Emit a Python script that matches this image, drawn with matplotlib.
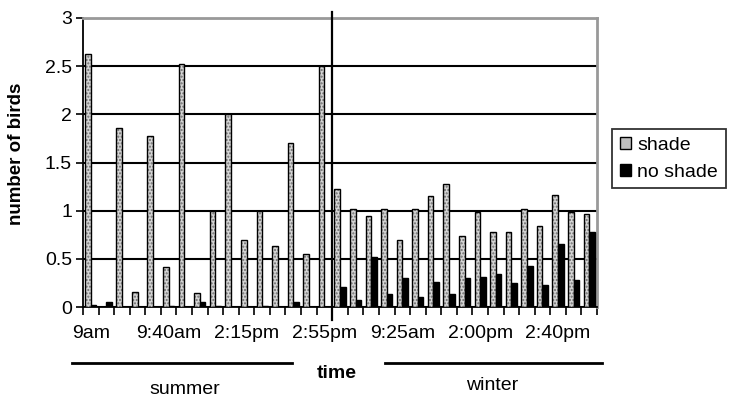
import matplotlib
matplotlib.use("Agg")
import matplotlib.pyplot as plt
import matplotlib.transforms as mtransforms
from matplotlib.patches import Patch
import numpy as np

plt.rcParams['font.family'] = ['Liberation Sans', 'DejaVu Sans']

# ---- data ----
shade = [2.63, 0.00, 1.86, 0.16, 1.78, 0.42, 2.52, 0.15, 1.00, 2.00, 0.70,
         1.00, 0.63, 1.70, 0.55, 2.50,
         1.23, 1.02, 0.94, 1.02, 0.70, 1.02, 1.15, 1.28, 0.74, 0.99, 0.78,
         0.78, 1.02, 0.84, 1.16, 0.99, 0.97]
no_shade = [0.02, 0.05, 0.00, 0.00, 0.00, 0.01, 0.00, 0.05, 0.01, 0.00, 0.00,
            0.01, 0.00, 0.05, 0.00, 0.00,
            0.21, 0.07, 0.52, 0.14, 0.30, 0.10, 0.26, 0.14, 0.30, 0.31, 0.34,
            0.25, 0.43, 0.23, 0.65, 0.28, 0.78]
tick_labels = ['9am', '9:40am', '2:15pm', '2:55pm', '9:25am', '2:00pm', '2:40pm']
label_every = 5
n_summer = 16
series_names = ['shade', 'no shade']
season_names = ['summer', 'winter']
y_ticks = [0, 0.5, 1, 1.5, 2, 2.5, 3]
y_tick_labels = ['0', '0.5', '1', '1.5', '2', '2.5', '3']

# ---- figure ----
W, H = 737, 409
fig = plt.figure(figsize=(W / 100, H / 100), dpi=100)
ax = fig.add_axes([83 / W, 1 - 307 / H, (597 - 83) / W, (307 - 18) / H])

n = len(shade)
x = np.arange(n)
bw = 0.36
off = 0.18

# shade bars: dotted gray fill then black outline
ax.bar(x - off, shade, bw, facecolor='#d4d4d4', edgecolor='#6e6e6e',
       hatch='.....', linewidth=0, zorder=3)
ax.bar(x - off, shade, bw, fill=False, edgecolor='black', linewidth=1.0,
       zorder=4)
# no shade bars
ax.bar(x + off, no_shade, bw, facecolor='black', edgecolor='black',
       linewidth=1.0, zorder=4)

ax.set_xlim(-0.5, n - 0.5)
ax.set_ylim(0, 3)

# gridlines
ax.set_yticks(y_ticks)
ax.set_yticklabels(y_tick_labels, fontsize=14)
ax.yaxis.grid(True, color='black', linewidth=1.5, zorder=1)
ax.set_axisbelow(True)
ax.tick_params(axis='y', length=5, width=1.2, direction='out', pad=3)

# x ticks: boundaries as minor ticks, labels at every 5th category
ax.set_xticks(np.arange(-0.5, n, 1.0), minor=True)
lab_pos = np.arange(0, n, label_every)[:len(tick_labels)]
ax.set_xticks(lab_pos)
ax.set_xticklabels(tick_labels, fontsize=14)
ax.tick_params(axis='x', which='major', length=0, pad=13)
ax.tick_params(axis='x', which='minor', length=6, width=1.2, direction='out')

for s in ['left', 'bottom']:
    ax.spines[s].set_color('black')
    ax.spines[s].set_linewidth(1.3)
for s in ['top', 'right']:
    ax.spines[s].set_color('#999999')
    ax.spines[s].set_linewidth(2)

# season divider
trans = mtransforms.blended_transform_factory(ax.transData, ax.transAxes)
ax.plot([n_summer - 0.5, n_summer - 0.5], [-0.045, 1.021], color='black',
        linewidth=1.6, transform=trans, clip_on=False, zorder=6)

ax.set_ylabel('number of birds', fontsize=13.5, fontweight='bold')
ax.yaxis.set_label_coords(-0.113, 0.53)

# legend
handles = [Patch(facecolor='#c0c0c0', edgecolor='black', linewidth=1.0),
           Patch(facecolor='black', edgecolor='black')]
leg = fig.legend(handles, series_names, loc='upper left',
                 bbox_to_anchor=(612 / W, 1 - 129 / H), fontsize=14,
                 frameon=True, fancybox=False, edgecolor='black',
                 handlelength=0.6, handleheight=0.6, handletextpad=0.3,
                 borderpad=0.4, labelspacing=0.5, borderaxespad=0)
leg.get_frame().set_linewidth(1.3)

# bottom annotations
fig.add_artist(plt.Line2D([72 / W, 292 / W], [1 - 363 / H, 1 - 363 / H],
                          color='black', linewidth=2))
fig.add_artist(plt.Line2D([385 / W, 602 / W], [1 - 363 / H, 1 - 363 / H],
                          color='black', linewidth=2))
fig.text(337 / W, 1 - 373 / H, 'time', fontsize=14, fontweight='bold',
         ha='center', va='center')
fig.text(185 / W, 1 - 389 / H, season_names[0], fontsize=14, ha='center',
         va='center')
fig.text(492 / W, 1 - 386 / H, season_names[1], fontsize=14, ha='center',
         va='center')

fig.savefig('out.png', dpi=100)
